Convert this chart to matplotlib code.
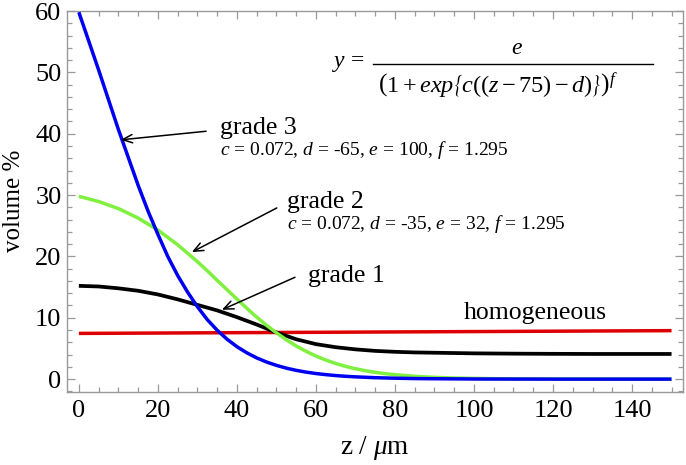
import matplotlib
matplotlib.use("Agg")
import matplotlib.pyplot as plt
from matplotlib.lines import Line2D
from matplotlib.ticker import MultipleLocator

plt.rcParams['font.family'] = ['Liberation Serif', 'DejaVu Serif']
plt.rcParams['mathtext.fontset'] = 'custom'
plt.rcParams['mathtext.rm'] = 'Liberation Serif'
plt.rcParams['mathtext.it'] = 'Liberation Serif:italic'
plt.rcParams['mathtext.bf'] = 'Liberation Serif:bold'

# ---- data ----
z_g3 = [0, 5, 10, 15, 17.5, 20, 22.5, 25, 27.5, 30, 32.5, 35, 37.5, 40, 42.5, 45,
        47.5, 50, 52.5, 55, 57.5, 60, 62.5, 65, 67.5, 70, 75, 80, 85, 90, 95,
        100, 110, 120, 130, 140, 150]
grade3 = [59.8, 50.4, 40.7, 31.6, 27.4, 23.6, 20.0, 16.9, 14.2, 11.8, 9.7, 7.97,
          6.51, 5.29, 4.29, 3.46, 2.79, 2.24, 1.79, 1.43, 1.14, 0.91, 0.73, 0.58,
          0.46, 0.37, 0.23, 0.15, 0.09, 0.06, 0.04, 0.02, 0.01, 0.0, 0.0, 0.0, 0.0]

z_g2 = [0, 5, 10, 15, 20, 25, 30, 32.5, 35, 37.5, 40, 42.5, 45, 47.5, 50, 52.5,
        55, 57.5, 60, 62.5, 65, 67.5, 70, 72.5, 75, 77.5, 80, 85, 90, 95, 100,
        105, 110, 120, 130, 140, 150]
grade2 = [29.8, 28.95, 27.8, 26.25, 24.3, 21.9, 19.15, 17.66, 16.1, 14.58, 13.05,
          11.55, 10.1, 8.77, 7.55, 6.41, 5.4, 4.53, 3.76, 3.11, 2.55, 2.08, 1.69,
          1.37, 1.11, 0.89, 0.72, 0.46, 0.29, 0.18, 0.12, 0.07, 0.05, 0.02, 0.01,
          0.0, 0.0]

z_g1 = [0, 5, 10, 15, 20, 25, 30, 35, 40, 45, 50, 55, 60, 65, 70, 75, 80, 85, 90,
        95, 100, 110, 120, 130, 140, 150]
grade1 = [15.2, 15.1, 14.8, 14.4, 13.8, 13.0, 12.1, 11.2, 10.1, 8.9, 7.6, 6.5,
          5.7, 5.2, 4.85, 4.6, 4.45, 4.35, 4.3, 4.25, 4.2, 4.15, 4.12, 4.1, 4.1,
          4.1]

homog_z = [0, 150]
homog = [7.45, 7.9]

x_ticks = [0, 20, 40, 60, 80, 100, 120, 140]
y_ticks = [0, 10, 20, 30, 40, 50, 60]

W, H = 686, 465
fig = plt.figure(figsize=(W / 100, H / 100), dpi=100)
ax = fig.add_axes([67 / W, 1 - 392 / H, (683 - 67) / W, (392 - 11) / H])

lw = 2.5
ax.plot(homog_z, homog, color='#DD0000', lw=lw, solid_capstyle='butt', zorder=3)
ax.plot(z_g1, grade1, color='black', lw=2.7, solid_capstyle='butt', zorder=3)
ax.plot(z_g2, grade2, color='#80F040', lw=lw, solid_capstyle='butt', zorder=3)
ax.plot(z_g3, grade3, color='#0000F0', lw=lw, solid_capstyle='butt', zorder=3)

ax.set_xlim(-3.0, 152.9)
ax.set_ylim(-2.1, 60.0)
ax.set_xticks(x_ticks)
ax.set_yticks(y_ticks)
ax.xaxis.set_minor_locator(MultipleLocator(5))
ax.yaxis.set_minor_locator(MultipleLocator(2))

frame_col = '#999999'
for s in ax.spines.values():
    s.set_color(frame_col)
    s.set_linewidth(1.0)
ax.tick_params(which='both', direction='in', top=True, right=True,
               color=frame_col, width=0.9, labelsize=19, labelcolor='black')
ax.tick_params(which='major', length=6)
ax.tick_params(which='minor', length=3.5)
ax.tick_params(axis='x', pad=6)
ax.tick_params(axis='y', pad=4)

# axis labels
fig.text(14 / W, 1 - 201 / H, 'volume %', rotation=90, ha='center', va='center',
         fontsize=18)
fig.text(375 / W, 1 - 448 / H, r'z / $\mu$m', ha='center', va='center',
         fontsize=19.5)

# annotations
arrow = dict(arrowstyle='->,head_length=0.7,head_width=0.3', color='black', lw=1.1,
             shrinkA=0, shrinkB=0)
ax.annotate('', xy=(10.6, 39.0), xytext=(32.2, 40.4), arrowprops=arrow, zorder=5)
ax.annotate('', xy=(28.6, 20.7), xytext=(50.1, 27.9), arrowprops=arrow, zorder=5)
ax.annotate('', xy=(36.2, 11.3), xytext=(54.7, 16.6), arrowprops=arrow, zorder=5)

ax.text(35.7, 41.0, 'grade 3', fontsize=18.5, ha='left', va='center')
ax.text(35.7, 37.4, r'$c$ = 0.072, $d$ = -65, $e$ = 100, $f$ = 1.295',
        fontsize=14, ha='left', va='center')
ax.text(52.7, 28.9, 'grade 2', fontsize=18.5, ha='left', va='center')
ax.text(52.7, 25.3, r'$c$ = 0.072, $d$ = -35, $e$ = 32, $f$ = 1.295',
        fontsize=14, ha='left', va='center')
ax.text(58.0, 16.8, 'grade 1', fontsize=18.5, ha='left', va='center')
ax.text(115.5, 10.7, 'homogeneous', fontsize=18.5, ha='center', va='center')

# formula
fig.text(332 / W, 1 - 63 / H, r'$y$ =', fontsize=17, ha='left', va='center')
fig.add_artist(Line2D([373 / W, 653 / W], [1 - 64 / H, 1 - 64 / H], color='black',
                      lw=1.0))
fig.text(517 / W, 1 - 49 / H, r'$e$', fontsize=17, ha='center', va='center')
fig.text(498 / W, 1 - 86 / H,
         r'$\left(1+exp\left\{c((z-75)-d)\right\}\right)^{f}$',
         fontsize=17.5, ha='center', va='center')

fig.savefig('out.png', dpi=100)
